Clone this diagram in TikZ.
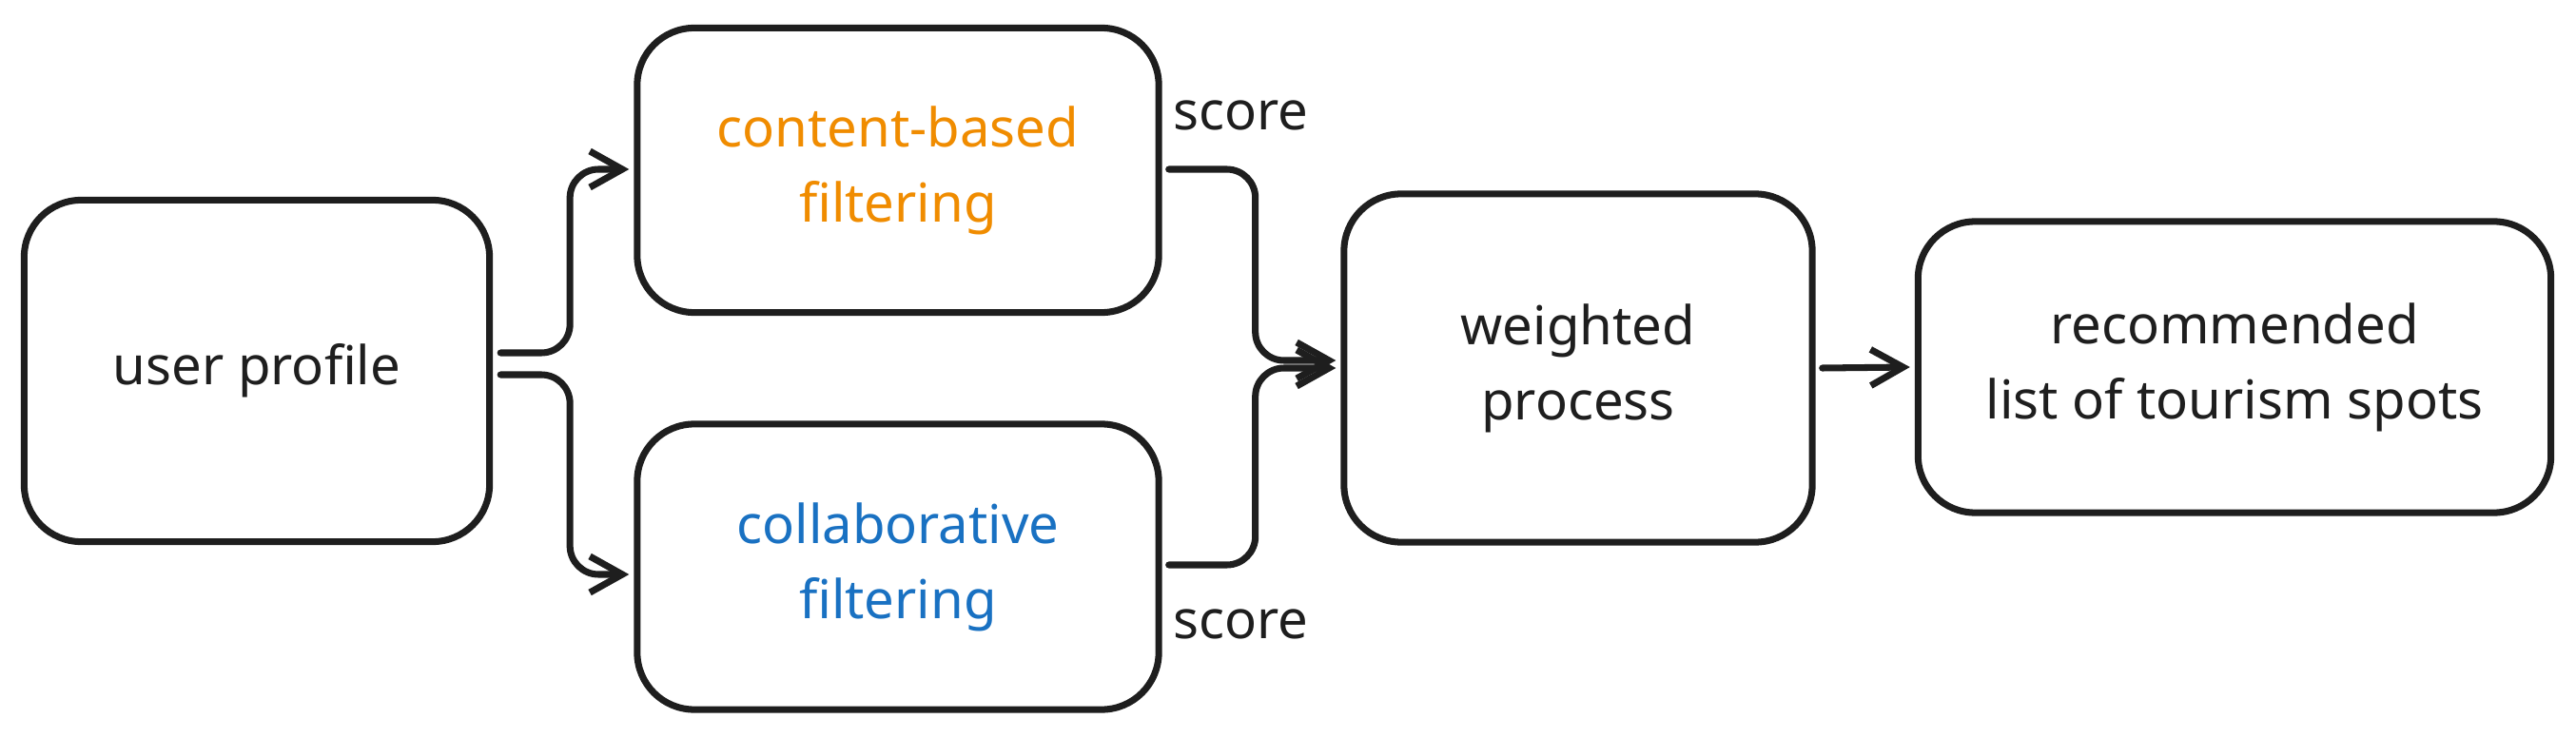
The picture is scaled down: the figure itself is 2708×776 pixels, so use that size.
\documentclass[tikz,border=0pt]{standalone}
\usepackage{fontspec}
\setmainfont{Noto Sans}
\usetikzlibrary{arrows.meta,calc}
\definecolor{ink}{HTML}{1E1E1E}
\definecolor{orangetxt}{HTML}{F08C00}
\definecolor{bluetxt}{HTML}{1971C2}
\begin{document}
\begin{tikzpicture}[x=0.01cm,y=-0.01cm,
  box/.style={draw=ink, line width=2pt, rounded corners=0.6cm, align=center,
    font=\fontsize{16}{22.5}\selectfont, inner sep=0pt, text=ink},
  conn/.style={draw=ink, line width=2pt, rounded corners=0.3cm, line cap=round,
    -{Straight Barb[length=0.34cm,width=0.38cm]}},
  lbl/.style={font=\fontsize{16}{22.5}\selectfont, text=ink, inner sep=0pt}]
\path[use as bounding box, fill=white] (0,0) rectangle (2708,776);
\node[box, minimum width=4.89cm, minimum height=3.59cm] (user) at (270,390) {user profile};
\node[box, text=orangetxt, minimum width=5.48cm, minimum height=2.99cm] (cbf) at (944,179) {content-based\\filtering};
\node[box, text=bluetxt, minimum width=5.48cm, minimum height=3.0cm] (cf) at (944,596) {collaborative\\filtering};
\node[box, minimum width=4.92cm, minimum height=3.66cm] (wp) at (1659,387) {weighted\\process};
\node[box, minimum width=6.65cm, minimum height=3.06cm] (rec) at (2349,386) {recommended\\list of tourism spots};
\node[lbl] (s1) at (1304,121) {score};
\node[lbl] (s2) at (1304,656) {score};
\draw[conn] ($(user.east)+(8,-19)$) -- ++(73,0) |- ($(cbf.west)+(-5,-1)$);
\draw[conn] ($(user.east)+(8,4)$) -- ++(73,0) |- ($(cf.west)+(-5,8)$);
\draw[conn] ($(cbf.east)+(7,-1)$) -- ++(91,0) |- ($(wp.west)+(-5,-8)$);
\draw[conn] ($(cf.east)+(7,-2)$) -- ++(91,0) |- ($(wp.west)+(-5,0)$);
\draw[conn] ($(wp.east)+(7,0)$) -- ($(rec.west)+(-5,0)$);
\end{tikzpicture}
\end{document}
